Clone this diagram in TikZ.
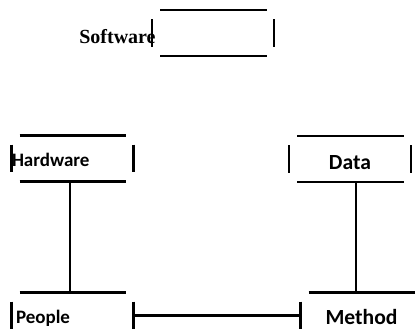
\documentclass[tikz,border=0pt]{standalone}
\usepackage{fontspec}
\setmainfont{Liberation Serif}
\newfontfamily\boxfont{Carlito}

\tikzset{
  part/.style={minimum width=60.5pt,minimum height=22.5pt,inner sep=0pt,text depth=0pt,font=\boxfont\bfseries},
  small/.style={font=\boxfont\bfseries\fontsize{9.5}{11}\selectfont},
  big/.style={font=\boxfont\bfseries\fontsize{10.8}{12}\selectfont},
  rim/.style={line width=1.3pt},
}
% a box with open corners
\newcommand\openbox[1]{%
  \draw[rim] ([xshift=4pt]#1.north west) -- ([xshift=-3.5pt]#1.north east);
  \draw[rim] ([xshift=4pt]#1.south west) -- ([xshift=-3.5pt]#1.south east);
  \draw[rim] ([yshift=-4.5pt]#1.north west) -- ([yshift=4.5pt]#1.south west);
  \draw[rim] ([yshift=-4.5pt]#1.north east) -- ([yshift=4.5pt]#1.south east);
}

\begin{document}
\begin{tikzpicture}[x=0.5pt,y=-0.5pt]
\useasboundingbox (0,0) rectangle (420,336);

\node[part] (sw) at (213,33) {};
\node[font=\bfseries,anchor=east,inner sep=0pt] (swname) at (156,37) {Software};

\node[part,small,text width=60.5pt,align=left,text height=8.5pt] (hw) at (72.5,158.5) {Hardware};
\node[part,big,text height=10.8pt] (data) at (350,159) {Data};
\node[part,small,text width=60.5pt,align=left,text height=8.5pt] (people) at (72.5,315.5) {\hspace*{2pt}People};
\node[part,big,text height=9.3pt] (method) at (361.5,315.5) {Method};

\openbox{sw}
\openbox{hw}
\openbox{data}
\openbox{people}
\openbox{method}

%links
\draw[rim] ([xshift=-1.2pt]hw.south) -- ([xshift=-1.2pt]hw.south |- people.north);
\draw[rim] ([xshift=3pt]data.south) -- ([xshift=3pt]data.south |- method.north);
\draw[rim] (people.east) -- (method.west);

\end{tikzpicture}
\end{document}
